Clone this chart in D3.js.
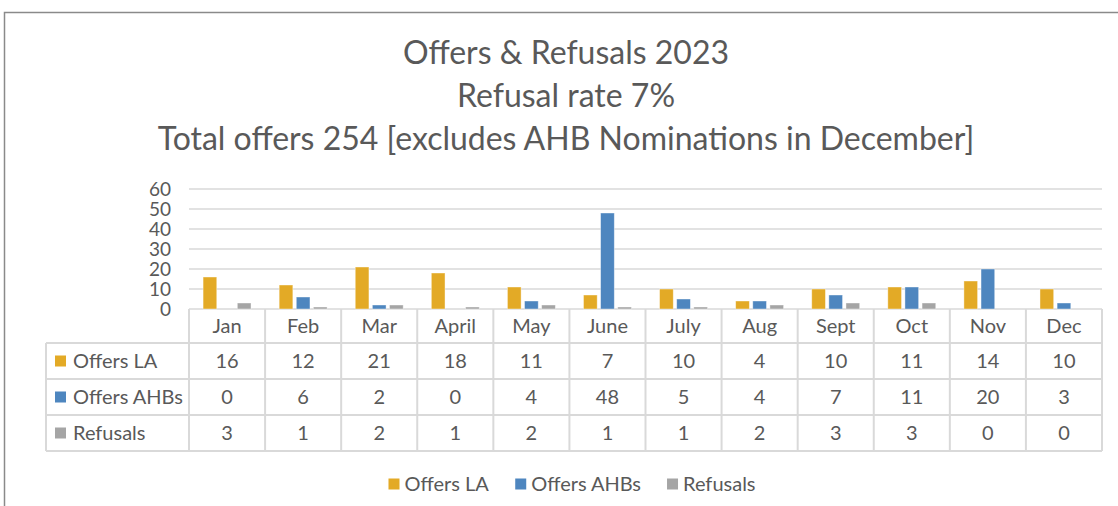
<!DOCTYPE html>
<html>
<head>
<meta charset="utf-8">
<script src="https://cdn.jsdelivr.net/npm/d3@7"></script>
<style>
  html, body { margin: 0; padding: 0; background: #fff; }
  svg { display: block; font-family: Lato, "Open Sans", sans-serif; }
</style>
</head>
<body>
<div id="chart"></div>
<script>
const months = ['Jan', 'Feb', 'Mar', 'April', 'May', 'June', 'July', 'Aug', 'Sept', 'Oct', 'Nov', 'Dec']
const offersLA = [16, 12, 21, 18, 11, 7, 10, 4, 10, 11, 14, 10]
const offersAHBs = [0, 6, 2, 0, 4, 48, 5, 4, 7, 11, 20, 3]
const refusals = [3, 1, 2, 1, 2, 1, 1, 2, 3, 3, 0, 0]
const seriesNames = ['Offers LA', 'Offers AHBs', 'Refusals']
const yTicks = [0, 10, 20, 30, 40, 50, 60]
const titleLines = [
  'Offers & Refusals 2023',
  'Refusal rate 7%',
  'Total offers 254 [excludes AHB Nominations in December]'
]

const series = [offersLA, offersAHBs, refusals]
const colors = ['#E3AA26', '#4E86BF', '#A5A5A5']
const textColor = '#595959'
const lineColor = '#D9D9D9'

const width = 1118
const height = 506
const plot = { left: 189, right: 1102, top: 189, bottom: 309 }
const tableLeft = 46
const rowH = 36

const svg = d3.select('#chart')
  .append('svg')
  .attr('width', width)
  .attr('height', height)

// outer chart border
svg.append('rect')
  .attr('x', 4.5)
  .attr('y', 12.5)
  .attr('width', 1130)
  .attr('height', 520)
  .attr('fill', 'none')
  .attr('stroke', '#8A8A8A')
  .attr('stroke-width', 1.5)

// titles
svg.append('g')
  .selectAll('text')
  .data(titleLines)
  .enter()
  .append('text')
  .attr('x', 566)
  .attr('y', (d, i) => 53 + i * 43)
  .attr('dy', '0.35em')
  .attr('text-anchor', 'middle')
  .attr('fill', textColor)
  .attr('font-size', 32)
  .text(d => d)

const x0 = d3.scaleBand()
  .domain(months)
  .range([plot.left, plot.right])

const bw = x0.bandwidth()
const groupW = bw * 0.63
const x1 = d3.scaleBand()
  .domain(seriesNames)
  .range([(bw - groupW) / 2, (bw + groupW) / 2])
  .paddingInner(0.2)

const y = d3.scaleLinear()
  .domain([0, 60])
  .range([plot.bottom, plot.top])

// gridlines
svg.append('g')
  .selectAll('line')
  .data(yTicks)
  .enter()
  .append('line')
  .attr('x1', plot.left)
  .attr('x2', plot.right)
  .attr('y1', d => y(d))
  .attr('y2', d => y(d))
  .attr('stroke', lineColor)
  .attr('stroke-width', 1.5)

// y axis labels
const yAxis = d3.axisLeft(y).tickValues(yTicks).tickSize(0).tickPadding(0)
const yg = svg.append('g')
  .attr('transform', `translate(171,0)`)
  .call(yAxis)
yg.select('.domain').remove()
yg.selectAll('text')
  .attr('fill', textColor)
  .attr('font-size', 19)
  .attr('font-family', 'Lato, sans-serif')

// bars
const groups = svg.append('g')
  .selectAll('g')
  .data(months)
  .enter()
  .append('g')
  .attr('transform', d => `translate(${x0(d)},0)`)

groups.selectAll('rect')
  .data((d, i) => seriesNames.map((s, k) => ({ s, k, v: series[k][i] })))
  .enter()
  .append('rect')
  .attr('x', d => x1(d.s))
  .attr('y', d => y(d.v))
  .attr('width', x1.bandwidth())
  .attr('height', d => y(0) - y(d.v))
  .attr('fill', d => colors[d.k])
  .attr('stroke', 'rgba(255,255,255,0.5)')
  .attr('stroke-width', 0.8)

// data table
const table = svg.append('g')
const tableTop = plot.bottom
const headBottom = tableTop + 34
const tableBottom = headBottom + rowH * 3

// horizontal lines
table.selectAll('line.h')
  .data([0, 1, 2, 3])
  .enter()
  .append('line')
  .attr('x1', tableLeft)
  .attr('x2', plot.right)
  .attr('y1', d => headBottom + d * rowH)
  .attr('y2', d => headBottom + d * rowH)
  .attr('stroke', lineColor)
  .attr('stroke-width', 2)

// vertical lines between months
table.selectAll('line.v')
  .data(d3.range(months.length + 1))
  .enter()
  .append('line')
  .attr('x1', d => plot.left + d * bw)
  .attr('x2', d => plot.left + d * bw)
  .attr('y1', tableTop)
  .attr('y2', tableBottom)
  .attr('stroke', lineColor)
  .attr('stroke-width', 2)

table.append('line')
  .attr('x1', tableLeft)
  .attr('x2', tableLeft)
  .attr('y1', headBottom)
  .attr('y2', tableBottom)
  .attr('stroke', lineColor)
  .attr('stroke-width', 2)

// month headers
table.selectAll('text.m')
  .data(months)
  .enter()
  .append('text')
  .attr('x', d => x0(d) + bw / 2)
  .attr('y', (tableTop + headBottom) / 2)
  .attr('dy', '0.35em')
  .attr('text-anchor', 'middle')
  .attr('fill', textColor)
  .attr('font-size', 20)
  .text(d => d)

// rows
seriesNames.forEach((name, k) => {
  const cy = headBottom + rowH * k + rowH / 2
  table.append('rect')
    .attr('x', 55)
    .attr('y', cy - 5.5)
    .attr('width', 11)
    .attr('height', 11)
    .attr('fill', colors[k])
  table.append('text')
    .attr('x', 73)
    .attr('y', cy)
    .attr('dy', '0.35em')
    .attr('fill', textColor)
    .attr('font-size', 20)
    .text(name)
  table.selectAll('text.v' + k)
    .data(series[k])
    .enter()
    .append('text')
    .attr('x', (d, i) => x0(months[i]) + bw / 2)
    .attr('y', cy)
    .attr('dy', '0.35em')
    .attr('text-anchor', 'middle')
    .attr('fill', textColor)
    .attr('font-size', 20)
    .text(d => d)
})

// bottom legend
const legend = svg.append('g')
const items = legend.selectAll('g')
  .data(seriesNames)
  .enter()
  .append('g')
items.append('rect')
  .attr('width', 11)
  .attr('height', 11)
  .attr('y', -5.5)
  .attr('fill', (d, i) => colors[i])
items.append('text')
  .attr('x', 16)
  .attr('dy', '0.35em')
  .attr('fill', textColor)
  .attr('font-size', 20)
  .text(d => d)

const gap = 26
const widths = []
items.each(function() {
  widths.push(this.getBBox().width)
})
const total = d3.sum(widths) + gap * (widths.length - 1)
let cx = 572 - total / 2
items.attr('transform', (d, i) => {
  const t = `translate(${cx},484)`
  cx += widths[i] + gap
  return t
})
</script>
</body>
</html>
